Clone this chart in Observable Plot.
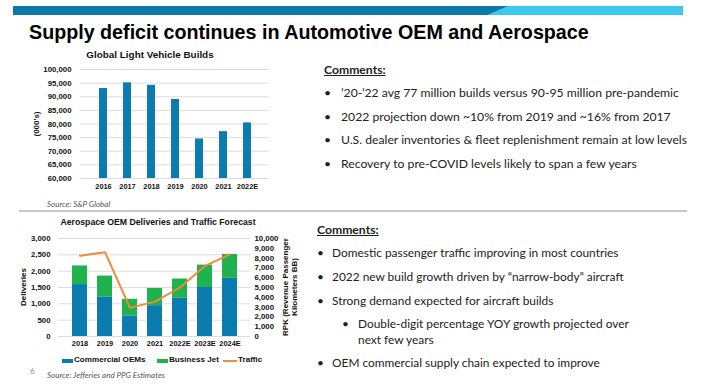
<!DOCTYPE html>
<html><head><meta charset="utf-8">
<script src="https://cdn.jsdelivr.net/npm/d3@7"></script>
<script src="https://cdn.jsdelivr.net/npm/@observablehq/plot@0.6"></script>
<style>
body{margin:0;background:#fff;}
#page{position:relative;width:724px;height:384px;overflow:hidden;background:#fff;font-family:"Liberation Sans",Arial,sans-serif;}
.abs{position:absolute;white-space:nowrap;}
.ct{font-family:Lato,"Open Sans",sans-serif;font-size:12.2px;color:#222;}
.ct2{font-family:Lato,"Open Sans",sans-serif;font-size:11.9px;color:#222;}
.hd{font-family:Lato,"Open Sans",sans-serif;font-size:12.2px;font-weight:bold;color:#222;text-decoration:underline;}
.src{font-family:Lato,"Open Sans",sans-serif;font-size:8px;font-style:italic;color:#555;}
.ctitle{font-weight:bold;color:#111;transform:translateX(-50%);}
.rot{font-weight:bold;font-size:8px;color:#111;transform:translate(-50%,-50%) rotate(-90deg);text-align:center;line-height:9px;}
.lg{font-weight:bold;font-size:8.1px;color:#111;}
.sw{position:absolute;}
</style></head>
<body><div id="page"></div>
<script>
// ---------- data ----------
const years1 = ["2016","2017","2018","2019","2020","2021","2022E"];
const builds = [93000, 95100, 94200, 89000, 74500, 77200, 80400];
const yTicks1 = [60000,65000,70000,75000,80000,85000,90000,95000,100000];

const years2 = ["2018","2019","2020","2021","2022E","2023E","2024E"];
const commercialOEMs = [1590, 1200, 630, 945, 1170, 1500, 1780];
const businessJet = [570, 650, 510, 525, 590, 685, 730];
const traffic = [8240, 8600, 2920, 3560, 5000, 7200, 8380];
const yTicksLeft = [0,500,1000,1500,2000,2500,3000];
const yTicksRight = [0,1000,2000,3000,4000,5000,6000,7000,8000,9000,10000];
const seriesNames = ["Commercial OEMs", "Business Jet", "Traffic"];

const slideTitle = "Supply deficit continues in Automotive OEM and Aerospace";
const comments1 = [
  "\u201920-\u201922 avg 77 million builds versus 90-95 million pre-pandemic",
  "2022 projection down ~10% from 2019 and ~16% from 2017",
  "U.S. dealer inventories & fleet replenishment remain at low levels",
  "Recovery to pre-COVID levels likely to span a few years"
];
const comments2 = [
  "Domestic passenger traffic improving in most countries",
  "2022 new build growth driven by \u201cnarrow-body\u201d aircraft",
  "Strong demand expected for aircraft builds",
  "OEM commercial supply chain expected to improve"
];
const subComment = ["Double-digit percentage YOY growth projected over", "next few years"];

const BLUE = "#0b7bb0", GREEN = "#1fb24f", ORANGE = "#f08a3c";
const page = document.getElementById("page");
function add(html, cls, left, top, extra) {
  const d = document.createElement("div");
  d.className = "abs " + (cls || "");
  d.style.left = left + "px"; d.style.top = top + "px";
  if (extra) Object.assign(d.style, extra);
  d.innerHTML = html; page.appendChild(d); return d;
}

// banner
page.insertAdjacentHTML("beforeend",
 `<svg class="abs" style="left:0;top:0" width="724" height="20">
   <rect x="13" y="6" width="670" height="9" fill="#3cc8f0"/>
   <polygon points="13,6 508,6 487,15 13,15" fill="#0a78a8"/>
  </svg>`);
add(slideTitle, "", 29, 21, {fontWeight:"bold", fontSize:"19.7px", color:"#000"});

// ---------- chart 1 ----------
const rows1 = years1.map((y,i)=>({year:y, value:builds[i]}));
const fmt = d3.format(",");
const chart1 = Plot.plot({
  width: 290, height: 140, marginLeft: 80, marginRight: 21, marginTop: 9, marginBottom: 22,
  style: {fontFamily:"Liberation Sans, Arial", fontSize:"7.8px", fontWeight:"bold", color:"#111", background:"transparent"},
  x: {domain: years1, padding: 0.67, label: null},
  y: {domain: [60000, 100000], label: null},
  marks: [
    Plot.gridY(yTicks1, {stroke:"#dcdcdc", strokeOpacity:1}),
    Plot.barY(rows1, {x:"year", y1:60000, y2:"value", fill:BLUE}),
    Plot.axisX({tickSize:0, tickPadding:5, label:null, fontSize:"7.4px"}),
    Plot.axisY(yTicks1, {tickSize:0, tickPadding:9, tickFormat:fmt, label:null})
  ]
});
chart1.style.position="absolute"; chart1.style.left="0px"; chart1.style.top="60px";
page.appendChild(chart1);
add("Global Light Vehicle Builds", "ctitle", 150, 48.5, {fontSize:"9.9px"});
add("(000's)", "rot", 36, 124);
add("Source: S&amp;P Global", "src", 47, 199);

// separator
add("", "", 19, 210, {width:"668px", height:"2px", background:"#c8c8c8"});

// ---------- chart 2 ----------
const rows2 = [];
years2.forEach((y,i)=>rows2.push({year:y, series:seriesNames[0], value:commercialOEMs[i]}));
years2.forEach((y,i)=>rows2.push({year:y, series:seriesNames[1], value:businessJet[i]}));
const k = 3000/10000;
const lineRows = years2.map((y,i)=>({year:y, t:traffic[i]*k}));
const chart2 = Plot.plot({
  width: 310, height: 125, marginLeft: 58, marginRight: 60, marginTop: 8, marginBottom: 19,
  style: {fontFamily:"Liberation Sans, Arial", fontSize:"7.8px", fontWeight:"bold", color:"#111", background:"transparent"},
  x: {domain: years2, padding: 0.42, label: null},
  y: {domain: [0, 3000], label: null},
  color: {domain:seriesNames.slice(0,2), range:[BLUE, GREEN]},
  marks: [
    Plot.gridY(yTicksLeft, {stroke:"#dcdcdc", strokeOpacity:1}),
    Plot.barY(rows2, {x:"year", y:"value", fill:"series"}),
    Plot.line(lineRows, {x:"year", y:"t", stroke:ORANGE, strokeWidth:2}),
    Plot.axisX({tickSize:0, tickPadding:4, label:null, fontSize:"7.4px"}),
    Plot.axisY(yTicksLeft, {anchor:"left", tickSize:0, tickPadding:8, tickFormat:fmt, label:null}),
    Plot.axisY(yTicksRight.map(v=>v*k), {anchor:"right", tickSize:0, tickPadding:4, tickFormat:d=>fmt(Math.round(d/k)), label:null})
  ]
});
chart2.style.position="absolute"; chart2.style.left="0px"; chart2.style.top="230px";
page.appendChild(chart2);
add("Aerospace OEM Deliveries and Traffic Forecast", "ctitle", 158, 216.5, {fontSize:"8.7px"});
add("Deliveries", "rot", 23, 287);
add("RPK (Revenue Passenger<br>Kilometers BB)", "rot", 290, 287);

// legend
add("", "sw", 62, 359, {width:"11px", height:"3.5px", background:BLUE});
add(seriesNames[0], "lg", 74, 355);
add("", "sw", 157, 359, {width:"11px", height:"3.5px", background:GREEN});
add(seriesNames[1], "lg", 169, 355);
add("", "sw", 223, 360, {width:"14px", height:"1.6px", background:ORANGE});
add(seriesNames[2], "lg", 238, 355);
add("6", "src", 30, 366, {fontStyle:"normal", color:"#888"});
add("Source: Jefferies and PPG Estimates", "src", 47, 370);

// ---------- comments ----------
add("Comments:", "hd", 324, 62);
comments1.forEach((t,i)=>{
  add("\u2022", "ct", 324, 85 + i*23.7);
  add(t, "ct", 341, 85 + i*23.7);
});
add("Comments:", "hd", 317, 222);
const c2y = [245, 269, 292.5, 355];
comments2.forEach((t,i)=>{
  add("\u2022", "ct2", 317, c2y[i]);
  add(t, "ct2", 332, c2y[i]);
});
add("\u2022", "ct2", 342, 316);
add(subComment[0], "ct2", 358, 316);
add(subComment[1], "ct2", 358, 332);
</script></body></html>
